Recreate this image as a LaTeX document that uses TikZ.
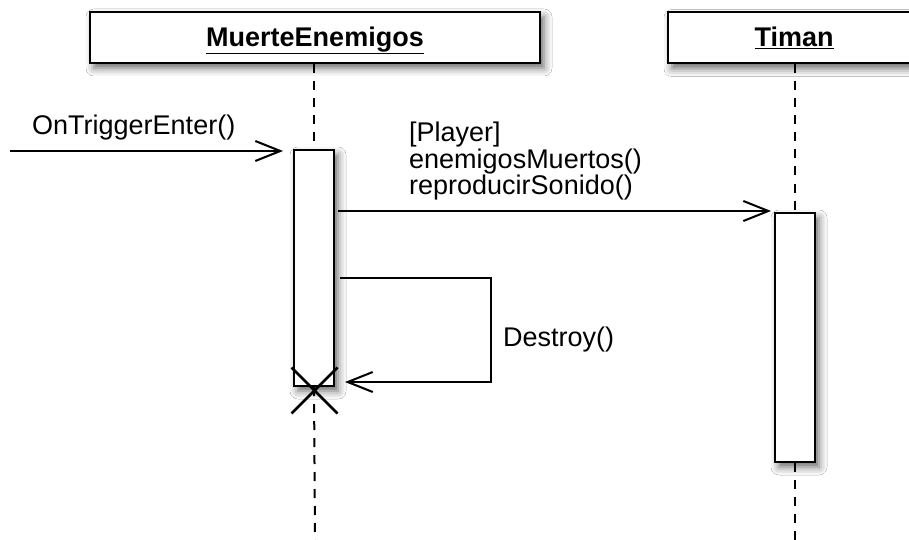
\documentclass[tikz,border=0pt]{standalone}
\usepackage{fontspec}
\setmainfont{Liberation Sans}
\usetikzlibrary{arrows.meta,shadows.blur,calc}

\begin{document}
\begin{tikzpicture}[x=1pt,y=-1pt,
  font=\fontsize{27}{26.5}\selectfont,
  shadowed/.style={blur shadow={shadow xshift=4pt,shadow yshift=-5pt,
                   shadow blur radius=8pt,shadow opacity=60}},
  header/.style={draw,line width=2pt,fill=white,shadowed,
                 minimum height=51pt,inner sep=0pt},
  activation/.style={draw,line width=2pt,fill=white,shadowed,
                 minimum width=40pt,inner sep=0pt},
  lifeline/.style={line width=2pt,dash pattern=on 9pt off 8pt},
  msg/.style={line width=2pt,-{Straight Barb[length=25pt,width=20pt,line width=2pt]}},
  label/.style={inner sep=0pt,anchor=base west},
]
% page area
\clip (0,0) rectangle (909,540);
\fill[white] (0,0) rectangle (909,540);

% object headers
\node[header,minimum width=450pt,text depth=2pt] (objA) at (315,37.5)
  {\underline{\textbf{MuerteEnemigos}}};
\node[header,minimum width=252pt,text depth=2pt] (objB) at (794,38)
  {\underline{\textbf{Timan}}};

% activation bars
\node[activation,minimum height=236pt] (barA) at (314,268) {};
\node[activation,minimum height=249pt] (barB) at (795,337.5) {};

% lifelines
\coordinate (endA) at (315,540);
\coordinate (endB) at (795,540);
\draw[lifeline] (objA.south -| barA.north) -- (barA.north);
\draw[lifeline] (barA.south) -- (endA);
\draw[lifeline] (objB.south -| barB.north) -- (barB.north);
\draw[lifeline] (barB.south) -- (endB);

% destruction mark
\coordinate (kill) at (314.5,390.5);
\draw[line width=2.8pt] (kill) +(-23,-23) -- +(23,23)
                        (kill) +(-23,23) -- +(23,-23);

% found message
\coordinate (src) at (10,151);
\draw[msg,shorten >=10pt] (src) -- (src -| barA.west);
\node[label] (lblTrig) at (32,135) {OnTriggerEnter()};

% call to Timan
\draw[msg,shorten >=3pt] ($(barA.east |- barB.north west)+(3,-1)$) -- ($(barB.north west)+(0,-1)$);
\node[inner sep=0pt,anchor=north west,align=left] (lblCall) at (409,122)
  {[Player]\\enemigosMuertos()\\reproducirSonido()};

% self call
\coordinate (selfOut) at (340,278);
\coordinate (loopR) at (491,330);
\coordinate (selfIn) at (345,382);
\draw[msg] (selfOut) -| (loopR) |- (selfIn);
\node[label] (lblDestroy) at (503,346) {Destroy()};
\end{tikzpicture}
\end{document}
